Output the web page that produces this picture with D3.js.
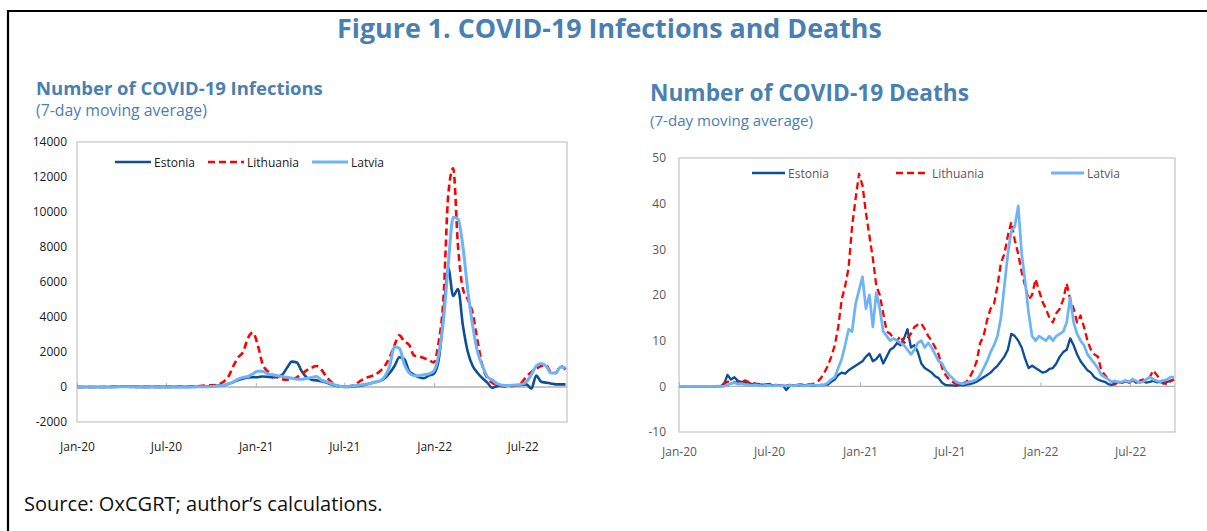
<!DOCTYPE html>
<html>
<head>
<meta charset="utf-8">
<script src="https://cdn.jsdelivr.net/npm/d3@7"></script>
<style>
  body { margin: 0; background: #fff; }
  text { font-family: 'Open Sans', sans-serif; }
</style>
</head>
<body>
<div id="chart"></div>
<script>
// series names (legend order)
const countries = ['Estonia', 'Lithuania', 'Latvia']

// x-axis ticks
const xTicks = ['2020-01-01', '2020-07-01', '2021-01-01', '2021-07-01', '2022-01-01', '2022-07-01']
const infTicks = [-2000, 0, 2000, 4000, 6000, 8000, 10000, 12000, 14000]
const deathTicks = [-10, 0, 10, 20, 30, 40, 50]

// infections, 7-day average, one value every 10 days from 1 Jan 2020
const infEstonia = [
  0, 0, 0, 0, 0, 0, 0, 0, 10, 20,
  30, 20, 10, 5, 5, 5, 5, 5, 5, 5,
  5, 5, 10, 10, 15, 20, 25, 40, 60, 80,
  100, 180, 280, 400, 480, 550, 560, 560, 600, 580,
  550, 580, 700, 1100, 1450, 1400, 900, 550, 420, 380,
  330, 250, 150, 70, 30, 10, 20, 50, 80, 130,
  200, 280, 350, 500, 800, 1200, 1700, 1600, 900, 700,
  550, 500, 650, 750, 1500, 4000, 6800, 5200, 5600, 3500,
  2000, 1200, 800, 500, 250, -50, 50, 100, 100, 100,
  100, 120, 150, -100, 650, 300, 250, 200, 150, 150,
  150
]
const infLithuania = [
  0, 0, 0, 0, 0, 0, 0, 10, 30, 40,
  30, 20, 10, 10, 10, 10, 10, 10, 10, 10,
  15, 20, 30, 30, 40, 50, 80, 100, 100, 150,
  300, 600, 1200, 1700, 2000, 2800, 3100, 2400, 1300, 900,
  700, 550, 450, 420, 450, 550, 750, 950, 1100, 1200,
  1000, 600, 300, 100, 20, 10, 50, 150, 350, 500,
  600, 700, 900, 1200, 1700, 2400, 2950, 2600, 2400, 1800,
  1750, 1650, 1550, 1400, 2500, 5000, 11000, 12500, 8000, 5600,
  5000, 4200, 2600, 1200, 500, 250, 100, 50, 30, 50,
  100, 250, 600, 850, 1050, 1200, 1250, 850, 800, 1200,
  1000
]
const infLatvia = [
  0, 0, 0, 0, 0, 0, 0, 0, 5, 10,
  10, 5, 5, 5, 5, 5, 5, 5, 5, 5,
  5, 5, 5, 5, 5, 10, 15, 20, 30, 60,
  100, 180, 300, 450, 550, 600, 750, 900, 900, 750,
  700, 650, 600, 550, 500, 450, 450, 480, 550, 600,
  400, 300, 200, 100, 30, 20, 40, 80, 120, 160,
  200, 280, 350, 600, 1200, 2300, 2200, 1300, 800, 650,
  650, 700, 750, 900, 1800, 3800, 7000, 9700, 9600, 8000,
  5500, 3500, 2000, 1200, 600, 400, 200, 100, 80, 100,
  120, 150, 300, 700, 1200, 1350, 1200, 800, 800, 1150,
  1100
]

// deaths, 7-day average, one value every 7 days from 1 Jan 2020
const deathEstonia = [
  0, 0, 0, 0, 0, 0, 0, 0, 0, 0,
  0, 0, 0, 0.5, 2.5, 1.5, 2, 1.2, 1, 0.8,
  0.8, 0.5, 0.6, 0.3, 0.4, 0.2, 0.5, 0.2, 0.2, 0.1,
  0.2, -0.8, 0.1, 0.2, 0.2, 0.1, 0.2, 0.3, 0.2, 0.1,
  0.2, 0.3, 0.3, 0.4, 1, 1.5, 2.5, 3, 2.8, 3.5,
  4, 4.5, 5, 5.5, 6.5, 7.2, 5.5, 6, 7, 5,
  6.5, 8, 8.5, 9.5, 9, 10.5, 12.5, 8.5, 9, 7.5,
  5, 4, 3.5, 3, 2.2, 1.8, 0.8, 0.3, 0.2, 0.2,
  0.1, 0.3, 0.2, 0.4, 0.5, 0.7, 1, 1.5, 2, 2.5,
  3, 3.8, 4.5, 5.5, 6.5, 8, 11.5, 11, 10, 8.5,
  6, 4, 4.5, 4, 3.5, 3, 3.2, 3.8, 4, 5,
  6.5, 7.5, 8, 10.5, 9, 7, 5.5, 4.5, 3.5, 3,
  2, 1.5, 1.2, 1, 0.5, 0.3, 0.5, 1, 0.8, 1.2,
  0.8, 1.5, 0.8, 1, 1.2, 0.8, 1, 1.2, 0.9, 1,
  0.6, 1, 1.2, 1.5
]
const deathLithuania = [
  0, 0, 0, 0, 0, 0, 0, 0, 0, 0,
  0, 0, 0.3, 0.6, 1, 1.2, 0.8, 1, 0.8, 1.3,
  1, 0.8, 0.6, 0.5, 0.5, 0.4, 0.5, 0.3, 0.3, 0.2,
  0.3, 0.2, 0.3, 0.2, 0.3, 0.4, 0.3, 0.4, 0.5, 0.6,
  1, 1.8, 3, 4.5, 6.5, 9, 13, 19, 22, 26,
  35, 41, 46.5, 44, 38, 33, 28, 22, 20, 16,
  12, 11.5, 10.5, 10, 11, 9.5, 10.5, 11.5, 13, 13.5,
  13.8, 12.5, 11, 10, 8.5, 7, 4, 2.5, 1.5, 1,
  0.5, 0.4, 0.6, 1, 2, 3.5, 5.5, 9.5, 11, 14.5,
  17, 18, 22, 27, 29, 33, 36, 32, 29, 25,
  22, 19, 20, 23.5, 21, 18.5, 17, 15, 14, 16,
  17, 19, 22.5, 19, 17, 14, 15.5, 13, 10, 8,
  7, 6.5, 3.5, 2.5, 1.5, 1, 0.5, 1, 0.8, 1.2,
  0.8, 1.3, 1, 1.2, 1.5, 1.2, 2, 3.5, 2.5, 1.5,
  1, 0.3, 1.2, 1.5
]
const deathLatvia = [
  0, 0, 0, 0, 0, 0, 0, 0, 0, 0,
  0, 0, 0, 0, 0.3, 0.6, 0.8, 0.5, 0.6, 0.4,
  0.3, 0.2, 0.3, 0.2, 0.1, 0.2, 0.2, 0.1, 0.2, 0.1,
  0.2, 0.1, 0.2, 0.1, 0.2, 0.2, 0.1, 0.2, 0.3, 0.2,
  0.2, 0.2, 0.3, 0.8, 1.5, 2, 4, 6, 9, 12.5,
  12, 18, 21, 24, 17, 20, 13, 20.5, 17, 12,
  11, 10, 10.5, 10, 9.5, 9, 8, 7, 8, 9.5,
  10, 8.5, 9.5, 8.5, 7, 5.5, 5, 3.5, 2.5, 1.8,
  1, 0.7, 0.5, 0.8, 1, 1.2, 1.5, 2.5, 4, 5.5,
  7.5, 9, 11, 15, 22, 29, 34, 35, 39.5, 29,
  23, 16, 11, 10, 11, 10.5, 10, 11, 10, 11,
  11.5, 12, 14, 19.5, 14, 11.5, 10, 9, 7, 6,
  5, 4, 2.5, 2, 1.5, 1, 1.2, 0.8, 1, 1.3,
  1, 1.5, 1.2, 0.8, 1, 1.5, 2, 1.5, 1.2, 1,
  1.3, 1.5, 2, 2
]

const blue = '#4a7fb2'
const styles = {
  Estonia: { color: '#0d4e96', width: 2.6, dash: null },
  Lithuania: { color: '#ff0000', width: 2.6, dash: '7,4' },
  Latvia: { color: '#6db3f7', width: 3, dash: null }
}

const start = new Date(Date.UTC(2020, 0, 1))
const end = d3.utcDay.offset(start, 1003)
const parse = d3.utcParse('%Y-%m-%d')

const svg = d3
  .select('#chart')
  .append('svg')
  .attr('width', 1207)
  .attr('height', 531)

svg.append('rect').attr('width', 1207).attr('height', 531).attr('fill', '#fff')

// outer frame (left and top edges show)
svg
  .append('path')
  .attr('d', 'M8,540 L8,11 L1207,11')
  .attr('fill', 'none')
  .attr('stroke', '#000')
  .attr('stroke-width', 2.2)

// fit a text to a target width by changing font size
function fit(t, w) {
  const len = t.node().getComputedTextLength()
  const fs = parseFloat(t.attr('font-size'))
  t.attr('font-size', (fs * w) / len)
}

const title = svg
  .append('text')
  .attr('x', 337)
  .attr('y', 38)
  .attr('font-size', 22)
  .attr('font-weight', 700)
  .attr('fill', blue)
  .text('Figure 1. COVID-19 Infections and Deaths')
fit(title, 545)

function drawPanel(p) {
  const g = svg.append('g')

  const t1 = g
    .append('text')
    .attr('x', p.titleX)
    .attr('y', p.titleY)
    .attr('font-size', p.titleSize)
    .attr('font-weight', 700)
    .attr('fill', blue)
    .text(p.title)
  fit(t1, p.titleW)

  const t2 = g
    .append('text')
    .attr('x', p.titleX)
    .attr('y', p.subY)
    .attr('font-size', 15)
    .attr('fill', blue)
    .text('(7-day moving average)')
  fit(t2, p.subW)

  const x = d3.scaleUtc().domain([start, end]).range([p.x0, p.x1])
  const y = d3.scaleLinear().domain([p.ticks[0], p.ticks[p.ticks.length - 1]]).range([p.y1, p.y0])

  // plot frame
  g.append('rect')
    .attr('x', p.x0)
    .attr('y', p.y0)
    .attr('width', p.x1 - p.x0)
    .attr('height', p.y1 - p.y0)
    .attr('fill', 'none')
    .attr('stroke', '#c4c4c4')
    .attr('stroke-width', 1.2)

  const yAxis = d3
    .axisLeft(y)
    .tickValues(p.ticks)
    .tickFormat(d => String(d))
    .tickSize(0)
    .tickPadding(p.yPad)
  g.append('g')
    .attr('transform', 'translate(' + p.x0 + ',0)')
    .call(yAxis)
    .call(a => a.select('.domain').remove())
    .selectAll('text')
    .attr('font-size', p.labelSize)
    .attr('font-family', "'Open Sans', sans-serif")
    .attr('fill', p.labelColor)

  const xAxis = d3
    .axisBottom(x)
    .tickValues(xTicks.map(parse))
    .tickFormat(d3.utcFormat('%b-%y'))
    .tickSize(0)
    .tickPadding(p.xPad)
  g.append('g')
    .attr('transform', 'translate(0,' + p.y1 + ')')
    .call(xAxis)
    .call(a => a.select('.domain').remove())
    .selectAll('text')
    .attr('font-size', p.labelSize)
    .attr('font-family', "'Open Sans', sans-serif")
    .attr('fill', p.labelColor)

  // zero line with small tick marks
  g.append('line')
    .attr('x1', p.x0)
    .attr('x2', p.x1)
    .attr('y1', y(0))
    .attr('y2', y(0))
    .attr('stroke', '#b0b0b0')
    .attr('stroke-width', 1.4)
  g.append('g')
    .attr('transform', 'translate(0,' + y(0) + ')')
    .call(d3.axisTop(x).tickValues(xTicks.map(parse)).tickSize(4).tickFormat(''))
    .call(a => a.select('.domain').remove())
    .selectAll('line')
    .attr('stroke', '#b0b0b0')

  const line = d3
    .line()
    .x((d, i) => x(d3.utcDay.offset(start, i * p.step)))
    .y(d => y(d))
    .curve(p.curve)

  countries.forEach((c, k) => {
    const s = styles[c]
    g.append('path')
      .datum(p.series[k])
      .attr('d', line)
      .attr('fill', 'none')
      .attr('stroke', s.color)
      .attr('stroke-width', s.width * p.lineScale)
      .attr('stroke-dasharray', s.dash)
      .attr('stroke-linejoin', 'round')
  })

  // legend
  countries.forEach((c, k) => {
    const s = styles[c]
    const lx = p.legendX[k]
    g.append('line')
      .attr('x1', lx)
      .attr('x2', lx + p.legendLen)
      .attr('y1', p.legendY)
      .attr('y2', p.legendY)
      .attr('stroke', s.color)
      .attr('stroke-width', s.width)
      .attr('stroke-dasharray', s.dash)
    g.append('text')
      .attr('x', lx + p.legendLen + 3)
      .attr('y', p.legendY + 4.5)
      .attr('font-size', p.labelSize)
      .attr('fill', p.labelColor)
      .text(c)
  })
}

drawPanel({
  title: 'Number of COVID-19 Infections',
  titleX: 36, titleY: 95, titleSize: 17, titleW: 287, subY: 116, subW: 171,
  x0: 77, x1: 567, y0: 142, y1: 422,
  ticks: infTicks, yPad: 10, xPad: 20,
  labelColor: '#1a1a1a', labelSize: 12,
  series: [infEstonia, infLithuania, infLatvia],
  step: 10, curve: d3.curveMonotoneX, lineScale: 1,
  legendX: [115, 208, 312], legendY: 162, legendLen: 36
})

drawPanel({
  title: 'Number of COVID-19 Deaths',
  titleX: 650, titleY: 101, titleSize: 22, titleW: 319, subY: 126, subW: 163,
  x0: 679, x1: 1175, y0: 158, y1: 432,
  ticks: deathTicks, yPad: 13, xPad: 15,
  labelColor: '#595959', labelSize: 12,
  series: [deathEstonia, deathLithuania, deathLatvia],
  step: 7, curve: d3.curveLinear, lineScale: 0.9,
  legendX: [752, 896, 1051], legendY: 173, legendLen: 33
})

const src = svg
  .append('text')
  .attr('x', 24)
  .attr('y', 511)
  .attr('font-size', 17)
  .attr('fill', '#111')
  .text('Source: OxCGRT; author\u2019s calculations.')
fit(src, 359)
</script>
</body>
</html>
